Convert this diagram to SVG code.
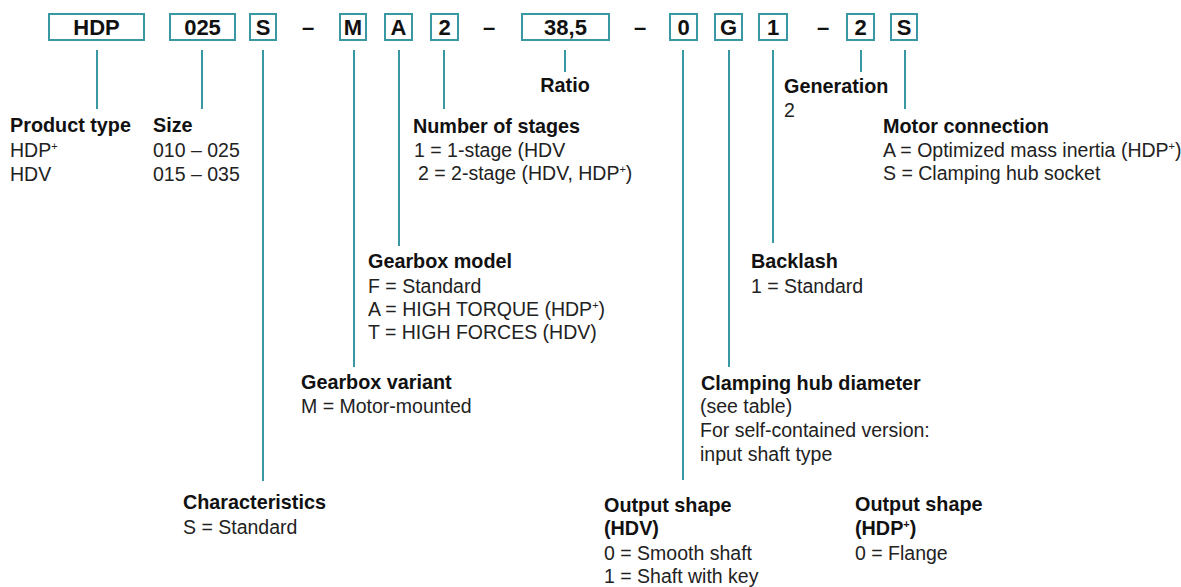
<svg xmlns="http://www.w3.org/2000/svg" width="1181" height="587" viewBox="0 0 1181 587">
<style>
  .box rect { fill: #ffffff; stroke: #3a98a3; stroke-width: 2; }
  .code { font-family: "Liberation Sans", Arial, sans-serif; font-weight: bold; font-size: 22px; fill: #111; text-anchor: middle; }
  .conn line { stroke: #3a98a3; stroke-width: 2; }
  .h { font-family: "Liberation Sans", Arial, sans-serif; font-weight: bold; font-size: 19.8px; fill: #111; }
  .t { font-family: "Liberation Sans", Arial, sans-serif; font-size: 19.5px; fill: #222; }
  .sup { font-size: 11px; baseline-shift: 7px; }
</style>
<rect width="1181" height="587" fill="#ffffff"/>

<g id="code">
  <g id="box-hdp" class="box"><rect x="49" y="14" width="95" height="26"/><text class="code" x="96.5" y="35">HDP</text></g>
  <g id="box-025" class="box"><rect x="170" y="14" width="65" height="26"/><text class="code" x="202.5" y="35">025</text></g>
  <g id="box-s1" class="box"><rect x="250" y="14" width="26" height="26"/><text class="code" x="263" y="35">S</text></g>
  <text id="dash1" class="code" x="308" y="35">–</text>
  <g id="box-m" class="box"><rect x="340" y="14" width="26" height="26"/><text class="code" x="353" y="35">M</text></g>
  <g id="box-a" class="box"><rect x="385" y="14" width="27" height="26"/><text class="code" x="398.5" y="35">A</text></g>
  <g id="box-2a" class="box"><rect x="431" y="14" width="27" height="26"/><text class="code" x="444.5" y="35">2</text></g>
  <text id="dash2" class="code" x="489" y="35">–</text>
  <g id="box-ratio" class="box"><rect x="522" y="14" width="87" height="26"/><text class="code" x="565.5" y="35">38,5</text></g>
  <text id="dash3" class="code" x="640" y="35">–</text>
  <g id="box-0" class="box"><rect x="670" y="14" width="27" height="26"/><text class="code" x="683.5" y="35">0</text></g>
  <g id="box-g" class="box"><rect x="715" y="14" width="27" height="26"/><text class="code" x="728.5" y="35">G</text></g>
  <g id="box-1" class="box"><rect x="759" y="14" width="28" height="26"/><text class="code" x="773" y="35">1</text></g>
  <text id="dash4" class="code" x="823" y="35">–</text>
  <g id="box-2b" class="box"><rect x="847" y="14" width="27" height="26"/><text class="code" x="860.5" y="35">2</text></g>
  <g id="box-s2" class="box"><rect x="891" y="14" width="26" height="26"/><text class="code" x="904" y="35">S</text></g>
</g>

<g id="connectors" class="conn">
  <line x1="97" y1="50" x2="97" y2="109"/>
  <line x1="202" y1="50" x2="202" y2="109"/>
  <line x1="263" y1="50" x2="263" y2="481"/>
  <line x1="354" y1="50" x2="354" y2="367"/>
  <line x1="399" y1="50" x2="399" y2="246"/>
  <line x1="444" y1="50" x2="444" y2="109"/>
  <line x1="565" y1="50" x2="565" y2="72"/>
  <line x1="683" y1="50" x2="683" y2="480"/>
  <line x1="729" y1="50" x2="729" y2="367"/>
  <line x1="773" y1="50" x2="773" y2="243"/>
  <line x1="861" y1="50" x2="861" y2="72"/>
  <line x1="905" y1="50" x2="905" y2="109"/>
</g>

<g id="label-product-type">
  <text class="h" x="10" y="132">Product type</text>
  <text class="t" x="10" y="157">HDP<tspan class="sup">+</tspan></text>
  <text class="t" x="10" y="181">HDV</text>
</g>
<g id="label-size">
  <text class="h" x="153" y="132">Size</text>
  <text class="t" x="153" y="157">010 – 025</text>
  <text class="t" x="153" y="181">015 – 035</text>
</g>
<g id="label-stages">
  <text class="h" x="413" y="133">Number of stages</text>
  <text class="t" x="414" y="157">1 = 1-stage (HDV</text>
  <text class="t" x="418" y="180">2 = 2-stage (HDV, HDP<tspan class="sup">+</tspan>)</text>
</g>
<g id="label-ratio">
  <text class="h" x="565" y="92" text-anchor="middle">Ratio</text>
</g>
<g id="label-generation">
  <text class="h" x="784" y="93">Generation</text>
  <text class="t" x="784" y="117">2</text>
</g>
<g id="label-motor-connection">
  <text class="h" x="883" y="133">Motor connection</text>
  <text class="t" x="883" y="157">A = Optimized mass inertia (HDP<tspan class="sup">+</tspan>)</text>
  <text class="t" x="883" y="180">S = Clamping hub socket</text>
</g>
<g id="label-gearbox-model">
  <text class="h" x="368" y="268">Gearbox model</text>
  <text class="t" x="368" y="293">F = Standard</text>
  <text class="t" x="368" y="316">A = HIGH TORQUE (HDP<tspan class="sup">+</tspan>)</text>
  <text class="t" x="368" y="339">T = HIGH FORCES (HDV)</text>
</g>
<g id="label-backlash">
  <text class="h" x="751" y="268">Backlash</text>
  <text class="t" x="751" y="293">1 = Standard</text>
</g>
<g id="label-gearbox-variant">
  <text class="h" x="301" y="389">Gearbox variant</text>
  <text class="t" x="301" y="413">M = Motor-mounted</text>
</g>
<g id="label-clamping-hub">
  <text class="h" x="701" y="390">Clamping hub diameter</text>
  <text class="t" x="700" y="413">(see table)</text>
  <text class="t" x="700" y="437">For self-contained version:</text>
  <text class="t" x="700" y="461">input shaft type</text>
</g>
<g id="label-characteristics">
  <text class="h" x="183" y="509">Characteristics</text>
  <text class="t" x="183" y="534">S = Standard</text>
</g>
<g id="label-output-hdv">
  <text class="h" x="604" y="512">Output shape</text>
  <text class="h" x="604" y="535">(HDV)</text>
  <text class="t" x="604" y="560">0 = Smooth shaft</text>
  <text class="t" x="604" y="583">1 = Shaft with key</text>
</g>
<g id="label-output-hdp">
  <text class="h" x="855" y="511">Output shape</text>
  <text class="h" x="855" y="535">(HDP<tspan class="sup">+</tspan>)</text>
  <text class="t" x="855" y="560">0 = Flange</text>
</g>
</svg>
